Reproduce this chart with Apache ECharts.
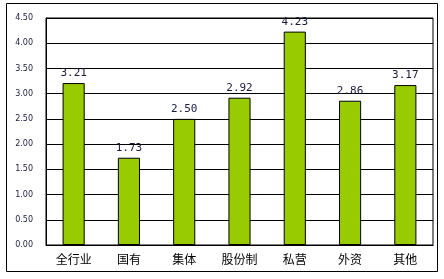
<!DOCTYPE html>
<html><head><meta charset="utf-8">
<script src="https://cdn.jsdelivr.net/npm/echarts@6/dist/echarts.min.js"></script>
<style>html,body{margin:0;padding:0;background:#fff}#c{width:444px;height:279px}</style>
</head><body><div id="c"></div>
<script>
const categories = ['全行业','国有','集体','股份制','私营','外资','其他'];
const values = [3.21, 1.73, 2.50, 2.92, 4.23, 2.86, 3.17];
const yTicks = {min: 0, max: 4.5, interval: 0.5};

const chart = echarts.init(document.getElementById('c'), null, {renderer: 'canvas'});
chart.setOption({
  animation: false,
  backgroundColor: '#fff',
  graphic: [{type: 'rect', shape: {x: 6.5, y: 3.5, width: 431, height: 268}, style: {fill: 'none', stroke: '#000', lineWidth: 1}, z: 0}],
  grid: {left: 46, right: 11, top: 18, bottom: 34, show: true, borderColor: '#000', borderWidth: 1},
  xAxis: {
    type: 'category', data: categories,
    axisLine: {lineStyle: {color: '#000'}},
    axisTick: {inside: true, length: 4, lineStyle: {color: '#000'}},
    axisLabel: {color: '#000', fontSize: 12, margin: 8, fontFamily: 'Noto Sans CJK SC'}
  },
  yAxis: {
    type: 'value', min: yTicks.min, max: yTicks.max, interval: yTicks.interval,
    axisLine: {show: true, lineStyle: {color: '#000'}},
    axisTick: {show: false},
    splitLine: {lineStyle: {color: '#000', width: 1}},
    axisLabel: {color: '#1a1a40', fontSize: 8, margin: 13, fontFamily: 'DejaVu Sans', formatter: v => v.toFixed(2)}
  },
  series: [{
    type: 'bar', data: values, barWidth: '40%',
    itemStyle: {color: '#99CC00', borderColor: '#000', borderWidth: 1},
    label: {show: true, position: 'top', distance: 4, color: '#1a1a40', fontSize: 11, fontFamily: 'DejaVu Sans Mono', formatter: p => p.value.toFixed(2)}
  }]
});
</script></body></html>
